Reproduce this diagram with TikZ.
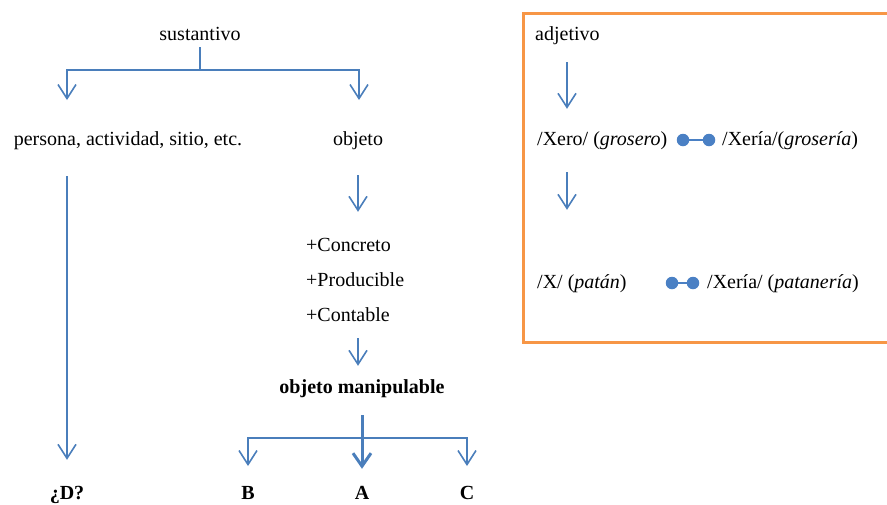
\documentclass[tikz,border=0pt]{standalone}
\usepackage{fontspec}
\setmainfont{Liberation Serif}
\usetikzlibrary{arrows.meta}
\definecolor{arrowblue}{HTML}{4A7EBB}
\definecolor{dotblue}{HTML}{4A80C4}
\definecolor{boxorange}{HTML}{F79646}
\tikzset{
  ln/.style={draw=arrowblue, line width=1.4pt},
  arr/.style={ln, -{Straight Barb[length=14pt,width=18pt,line width=1.6pt]}},
  thickarr/.style={draw=arrowblue, line width=3pt, -{Straight Barb[length=13pt,width=18pt]}},
  txt/.style={inner sep=0pt, font=\fontsize{20}{24}\selectfont, text height=14pt, text depth=4pt},
  btxt/.style={txt, font=\fontsize{20}{24}\selectfont\bfseries},
  linkdot/.style={circle, fill=dotblue, inner sep=0pt, minimum size=12.5pt},
  linkline/.style={draw=dotblue, line width=1.6pt}
}
\begin{document}
\begin{tikzpicture}[x=1pt,y=-1pt]
\path[use as bounding box] (0,0) rectangle (887,504);
\clip (0,0) rectangle (887,504);

% left tree
\node[txt] (sus) at (200,35) {sustantivo};
\node[txt] (pers) at (128,140) {persona, actividad, sitio, etc.};
\node[txt] (obj) at (358,140) {objeto};
\node[txt, anchor=west] (conc) at (306,246) {+Concreto};
\node[txt, anchor=west] (prod) at (306,281) {+Producible};
\node[txt, anchor=west] (cont) at (306,316) {+Contable};
\node[btxt] (manip) at (362,388) {objeto manipulable};
\node[btxt] (D) at (67,494) {¿D?};
\node[btxt] (B) at (248,494) {B};
\node[btxt] (A) at (362,494) {A};
\node[btxt] (C) at (467,494) {C};

\coordinate (j1) at (200,70);
\coordinate (a1) at (67,100);
\coordinate (a2) at (359,100);
\draw[ln] ([yshift=-3pt]sus.south) -- (j1);
\draw[arr] (j1) -| (a1);
\draw[arr] (j1) -| (a2);

\draw[arr, shorten <=27pt, shorten >=25pt] (pers.south -| D.north) -- (D.north);
\draw[arr, shorten <=26pt, shorten >=25pt] (obj.south) -- (obj.south |- conc.north);
\draw[arr, shorten <=13pt, shorten >=13pt] (obj.south |- cont.south) -- (obj.south |- manip.north);

\coordinate (j2) at (362,438);
\coordinate (b1) at (248,466);
\coordinate (c1) at (467,466);
\draw[arr] (j2) -| (b1);
\draw[arr] (j2) -| (c1);
\draw[thickarr, shorten <=18pt, shorten >=16pt] (manip.south) -- (A.north);

% right box
\draw[boxorange, line width=3pt] (523,13) rectangle (900,342);
\node[txt, anchor=west] (adj) at (535,35) {adjetivo};
\node[txt, anchor=west] (xero) at (537,140) {/Xero/ (\textit{grosero})};
\node[txt, anchor=west] (xeria) at (722,140) {/Xería/(\textit{grosería})};
\node[txt, anchor=west] (pat) at (537,283) {/X/ (\textit{patán})};
\node[txt, anchor=west] (patn) at (707,283) {/Xería/ (\textit{patanería})};

\node[linkdot] (d1) at (683,140) {};
\node[linkdot] (d2) at (709,140) {};
\draw[linkline] (d1) -- (d2);
\node[linkdot] (d3) at (672,283) {};
\node[linkdot] (d4) at (693,283) {};
\draw[linkline] (d3) -- (d4);

\coordinate (ax) at (567,0);
\draw[arr, shorten <=18pt, shorten >=22pt] (adj.south -| ax) -- (xero.north -| ax);
\draw[arr, shorten <=23pt, shorten >=64pt] (xero.south -| ax) -- (pat.north -| ax);
\end{tikzpicture}
\end{document}
